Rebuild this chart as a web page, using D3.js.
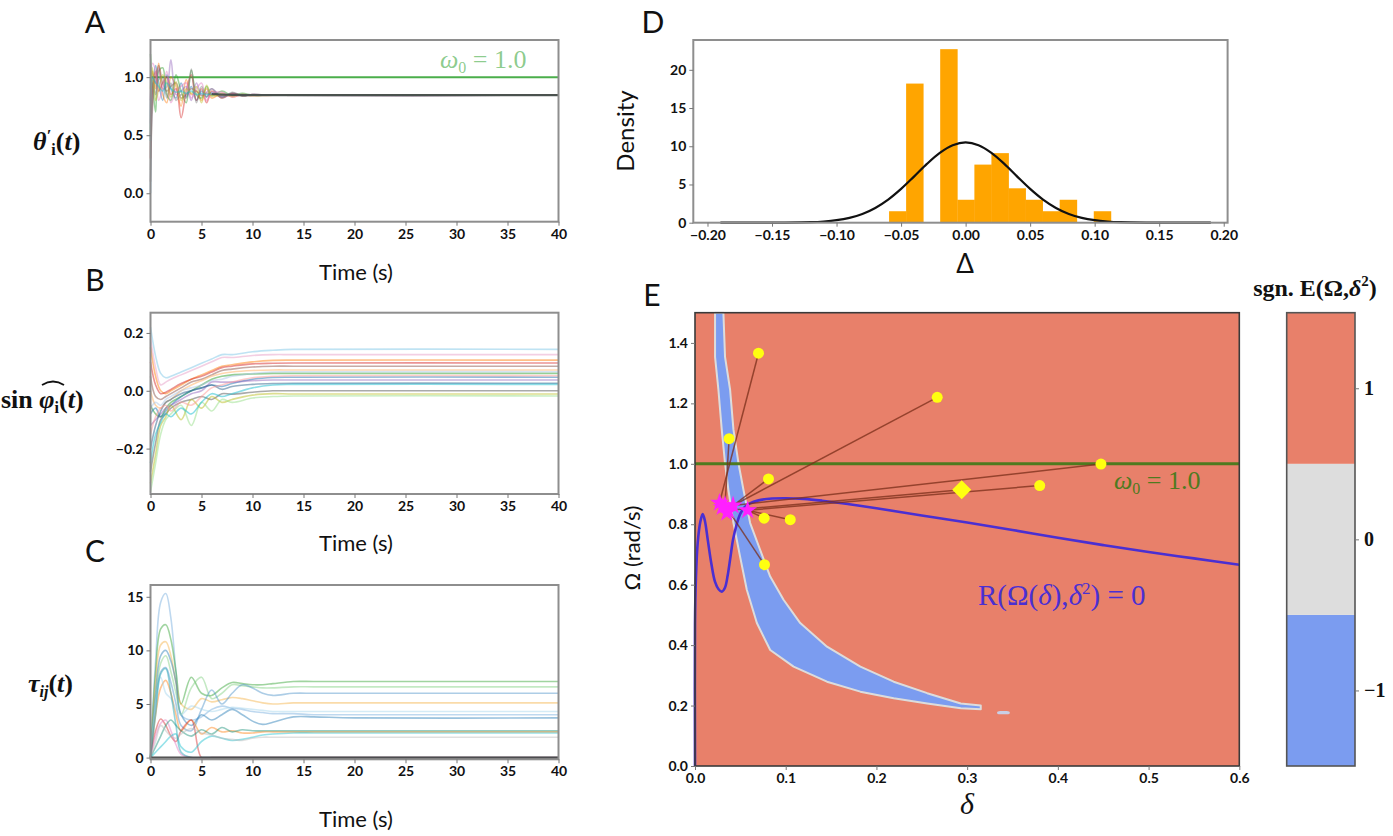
<!DOCTYPE html>
<html><head><meta charset="utf-8">
<script src="https://cdn.jsdelivr.net/npm/d3@7"></script>
<style>
body{margin:0;background:#fff}
svg{display:block}
text{font-family:Lato,'Open Sans',sans-serif}
.tick text{font-family:Lato,'Open Sans',sans-serif;font-weight:700;font-size:14px;fill:#111}
.tick line{stroke:#777}
</style>
</head><body>
<svg id="chart" width="1393" height="836"></svg>
<script>
// ---------------- DATA ----------------
const tab10 = ["#1f77b4","#ff7f0e","#2ca02c","#d62728","#9467bd","#8c564b","#e377c2","#7f7f7f","#bcbd22","#17becf"];

// Panel A: theta'_i(t)
const timeA = [0,0.2,0.5,0.8,1.2,1.6,2.0,2.5,3.0,3.5,4.0,4.5,5.0,5.5,6.0,7.0,8.0,9.0,10.0,12.0,40];
const thetaA = [
  [0.0,0.85,1.10,0.95,0.80,1.02,0.90,0.82,0.95,0.83,0.92,0.80,0.88,0.83,0.87,0.83,0.86,0.84,0.85,0.845,0.845],
  [0.5,1.05,0.90,1.12,0.85,0.78,1.00,0.92,0.75,0.98,0.85,0.88,0.80,0.90,0.82,0.86,0.83,0.85,0.84,0.845,0.845],
  [1.2,0.95,0.70,1.05,1.08,0.85,0.80,1.02,0.88,0.78,1.06,0.85,0.82,0.92,0.84,0.88,0.84,0.86,0.845,0.845,0.845],
  [0.3,0.90,1.05,0.88,0.95,1.00,0.85,0.90,0.65,0.88,1.02,0.80,0.90,0.78,0.88,0.82,0.86,0.84,0.85,0.845,0.845],
  [0.8,1.00,0.95,1.08,0.90,0.92,1.15,0.85,0.88,0.92,0.80,0.95,0.85,0.87,0.90,0.83,0.85,0.845,0.85,0.845,0.845],
  [0.1,0.75,1.00,1.10,0.95,0.88,0.92,0.95,0.82,0.85,0.90,0.88,0.84,0.86,0.85,0.84,0.85,0.84,0.845,0.845,0.845],
  [0.6,1.12,1.05,0.80,0.90,1.05,0.78,0.88,0.92,0.95,0.82,0.90,0.95,0.80,0.86,0.87,0.83,0.85,0.845,0.845,0.845],
  [0.2,0.95,0.85,0.98,1.00,0.82,0.95,0.80,0.85,0.82,1.07,0.78,0.92,0.83,0.90,0.82,0.87,0.84,0.85,0.845,0.845],
  [0.9,1.08,0.80,0.90,1.02,0.95,0.83,0.96,0.80,0.90,0.86,0.92,0.78,0.93,0.84,0.85,0.84,0.85,0.845,0.845,0.845],
  [0.45,1.00,0.95,0.92,0.88,0.95,0.90,0.87,0.88,0.86,0.88,0.85,0.86,0.85,0.855,0.85,0.848,0.846,0.845,0.845,0.845]
];
const omega0 = 1.0;

// Panel B: sin phi_i(t)
const timeB = [0,0.5,1,1.5,2,3,4,5,6,7,8,10,12,14,40];
const sinPhiB = [
  [0.22,0.12,0.06,0.045,0.05,0.065,0.08,0.095,0.11,0.125,0.125,0.135,0.14,0.143,0.143],
  [0.18,0.08,0.02,0.03,0.04,0.055,0.07,0.085,0.10,0.115,0.115,0.122,0.125,0.125,0.125],
  [0.15,0.05,0.0,-0.01,0.0,0.02,0.04,0.055,0.07,0.085,0.09,0.10,0.105,0.106,0.106],
  [0.10,0.02,-0.01,-0.005,0.005,0.025,0.04,0.05,0.065,0.08,0.085,0.093,0.095,0.096,0.096],
  [0.05,-0.02,-0.03,-0.02,-0.01,0.01,0.03,0.04,0.055,0.07,0.075,0.082,0.085,0.085,0.085],
  [0.0,-0.05,-0.06,-0.04,-0.03,0.0,0.02,0.035,0.05,0.06,0.065,0.07,0.072,0.072,0.072],
  [-0.05,-0.08,-0.09,-0.06,-0.04,-0.02,0.0,0.02,0.04,0.05,0.055,0.058,0.06,0.06,0.06],
  [-0.08,-0.06,-0.09,-0.07,-0.05,-0.02,0.0,0.01,0.02,0.015,0.025,0.04,0.046,0.047,0.047],
  [-0.12,-0.10,-0.08,-0.06,-0.05,-0.03,-0.01,0.0,0.03,0.03,0.03,0.035,0.037,0.037,0.037],
  [-0.20,-0.12,-0.07,-0.04,-0.03,-0.01,0.0,0.01,0.02,0.005,0.015,0.022,0.025,0.026,0.026],
  [-0.28,-0.18,-0.10,-0.08,-0.06,-0.04,-0.03,-0.02,-0.03,-0.01,-0.012,-0.005,0.0,0.0,0.0],
  [-0.32,-0.22,-0.12,-0.09,-0.05,-0.10,-0.03,-0.06,-0.02,-0.04,-0.03,-0.015,-0.01,-0.011,-0.011],
  [-0.35,-0.25,-0.15,-0.10,-0.08,-0.05,-0.12,-0.04,-0.07,-0.03,-0.04,-0.025,-0.02,-0.018,-0.018],
  [-0.25,-0.15,-0.11,-0.08,-0.09,-0.06,-0.08,-0.04,-0.01,-0.02,-0.01,0.01,0.02,0.022,0.022],
  [-0.15,-0.09,-0.06,-0.05,-0.07,-0.04,-0.05,-0.02,0.01,0.02,0.03,0.045,0.05,0.052,0.052],
  [-0.06,-0.04,-0.05,-0.03,-0.02,0.0,0.01,0.02,0.035,0.04,0.05,0.06,0.065,0.066,0.066]
];
const colorsB = ["#7fc8e8","#e8a0c8","#ff7f0e","#d62728","#8c564b","#ffb060","#2ca02c","#1f77b4","#9467bd","#2b5f8a","#555555","#bcbd22","#98df8a","#17becf","#ff9896","#aec7e8"];

// Panel C: tau_ij(t)
const timeC = [0,0.5,1,1.5,2,2.5,3,4,5,6,7,8,9,10,11,12,14,16,20,40];
const tauC = [
  [0,9,14.5,15.3,13,8,4,3.5,3.8,4.5,4.8,4.6,4.5,4.3,4.2,4.1,4.1,4.0,4.0,4.0],
  [0,8,12.0,12.4,11,8,5,7.5,6,5.8,6.5,7.0,6.9,6.8,6.8,6.9,7.1,7.1,7.1,7.1],
  [0,7,10.5,10.8,9.5,7,5,4.5,5.5,5.2,5.4,5.6,5.5,5.3,5.1,5.0,5.1,5.1,5.1,5.1],
  [0,6,9.5,10,9,7,4,3,4,3.5,4,4.5,4,3.4,3.1,3.3,3.8,3.8,3.7,3.7],
  [0,5.5,8.8,9.5,8,6,4,6.5,7.5,5.5,6,6.8,6.7,6.6,6.5,6.5,6.6,6.6,6.6,6.6],
  [0,5,8.0,8.4,7,5,3,2.5,4.5,6.3,5,6.0,6.8,6.5,6.0,5.8,6.0,6.0,6.0,6.0],
  [0,4,6.5,7.2,6,4,2.5,3.5,2.2,2.8,2.4,2.5,2.3,2.3,2.4,2.4,2.4,2.4,2.4,2.4],
  [0,5,7.5,6,5.5,4.5,4,4.8,4.5,4.3,4.5,4.7,4.6,4.5,4.4,4.3,4.3,4.3,4.3,4.3],
  [0,2.5,3.6,3.0,2.0,1.5,2.5,3.5,0,0,0,0,0,0,0,0,0,0,0,0],
  [0,2,3.2,3.5,2.5,1.2,0.3,0,0,0,0,0,0,0,0,0,0,0,0,0],
  [0,1,2,3,3.5,3,2.5,2.0,2.6,2.2,2.8,2.4,2.6,2.5,2.5,2.5,2.5,2.5,2.5,2.5],
  [0,0.5,1,1.5,2,2.2,1.0,0.5,1.5,2.0,1.8,1.6,1.7,1.9,2.1,2.2,2.3,2.3,2.3,2.3],
  [0,1.5,3,2.5,2,1.8,2.2,2.7,2.3,2.1,1.8,1.7,1.6,1.8,1.9,1.9,1.9,1.9,1.9,1.9],
  [0,4,7.8,8.3,6,3,0.5,0,0,0,0,0,0,0,0,0,0,0,0,0],
  [0,0,0,0,0,0,0,0,0,0,0,0,0,0,0,0,0,0,0,0]
];
const colorsC = ["#6fa8dc","#2ca02c","#f5b041","#1f77b4","#7ccf7c","#4a90c8","#ff7f0e","#9fd3ea","#d62728","#e377c2","#138d75","#17becf","#bbbbbb","#17a0b0","#555555"];

// Panel D: histogram of Delta
const binStart = [-0.0593,-0.0461,-0.0329,-0.0197,-0.0064,0.0068,0.0200,0.0332,0.0464,0.0597,0.0729,0.0861,0.0993];
const binWidth = 0.01322;
const densityD = [1.5,18.2,0,22.7,3.0,7.6,9.1,4.5,3.0,1.5,3.0,0,1.5];
const normX = [-0.19,-0.16,-0.14,-0.12,-0.11,-0.10,-0.09,-0.08,-0.07,-0.06,-0.05,-0.04,-0.03,-0.02,-0.01,0,0.01,0.02,0.03,0.04,0.05,0.06,0.07,0.08,0.09,0.10,0.11,0.12,0.14,0.16,0.19];
const normY = [0,0.002,0.012,0.07,0.16,0.33,0.64,1.14,1.93,3.02,4.42,6.03,7.69,9.14,10.14,10.5,10.14,9.14,7.69,6.03,4.42,3.02,1.93,1.14,0.64,0.33,0.16,0.07,0.012,0.002,0];
const ticksDx = [-0.20,-0.15,-0.10,-0.05,0.00,0.05,0.10,0.15,0.20];
const ticksDy = [0,5,10,15,20];

// Panel E
const rCurveD = [0,0,0.001,0.003,0.006,0.0085,0.011,0.014,0.018,0.022,0.026,0.0295,0.033,0.036,0.039,0.042,0.046,0.05,0.055,0.06,0.07,0.085,0.1,0.12,0.14,0.17,0.2,0.25,0.3,0.35,0.4,0.45,0.5,0.55,0.6];
const rCurveW = [0,0.47,0.62,0.74,0.81,0.834,0.81,0.75,0.67,0.61,0.585,0.577,0.59,0.63,0.69,0.75,0.80,0.835,0.857,0.868,0.879,0.885,0.886,0.884,0.878,0.866,0.853,0.829,0.806,0.781,0.755,0.731,0.708,0.687,0.666];
const bandLowD = [0.0221,0.0221,0.0258,0.0295,0.0331,0.0368,0.0424,0.0497,0.0571,0.0682,0.0829,0.1087,0.1455,0.1823,0.219,0.256,0.293,0.315];
const bandLowW = [1.5,1.354,1.245,1.113,1.002,0.914,0.804,0.693,0.583,0.473,0.384,0.329,0.279,0.246,0.224,0.207,0.191,0.188];
const bandHighD = [0.0313,0.0331,0.0387,0.0424,0.0479,0.0534,0.0608,0.0718,0.0829,0.0976,0.116,0.1455,0.1823,0.219,0.256,0.293,0.315];
const bandHighW = [1.5,1.354,1.245,1.113,1.002,0.914,0.804,0.715,0.627,0.550,0.473,0.395,0.329,0.279,0.241,0.207,0.2];
const blobD = [0.333,0.347];
const blobW = [0.171,0.182];
const yellowD = [0.070,0.267,0.0376,0.4475,0.081,0.380,0.0762,0.105,0.0766];
const yellowW = [1.366,1.220,1.083,0.999,0.950,0.928,0.820,0.815,0.666];
const starD = [0.027,0.0331,0.0368,0.035,0.042,0.030,0.058];
const starW = [0.871,0.863,0.846,0.838,0.862,0.857,0.846];
const linkYellow = [0,1,2,3,4,5,6,7,8];
const linkStar = [0,4,1,4,4,6,6,6,2];
const diamondD = [0.294];
const diamondW = [0.914];
const diamondStar = [2];
const ticksEx = [0,0.1,0.2,0.3,0.4,0.5,0.6];
const ticksEy = [0,0.2,0.4,0.6,0.8,1.0,1.2,1.4];

// Colorbar
const cbEdges = [-1.5,-0.5,0.5,1.5];
const cbColors = ["#7b9cf0","#dddddd","#e8806a"];
const cbTicks = [-1,0,1];

// ---------------- DRAW ----------------
const svg = d3.select("#chart");
const fmt1 = d3.format(".1f");

function frame(x, y, stroke, sw) {
  const [x0,x1] = x.range(), [y0,y1] = y.range();
  svg.append("rect").attr("x",x0).attr("y",y1).attr("width",x1-x0).attr("height",y0-y1)
    .attr("fill","none").attr("stroke",stroke).attr("stroke-width",sw);
}
function axes(x, y, xt, yt, xf, yf) {
  const gx = svg.append("g").attr("transform",`translate(0,${y.range()[0]})`)
    .call(d3.axisBottom(x).tickValues(xt).tickFormat(xf).tickSize(4).tickPadding(3));
  gx.select(".domain").remove();
  const gy = svg.append("g").attr("transform",`translate(${x.range()[0]},0)`)
    .call(d3.axisLeft(y).tickValues(yt).tickFormat(yf).tickSize(4).tickPadding(3));
  gy.select(".domain").remove();
  return [gx, gy];
}
function lines(x, y, T, S, colors, op, w) {
  const gen = d3.line().x((d,i)=>x(T[i])).y(d=>y(d)).curve(d3.curveCatmullRom.alpha(0.5));
  const g = svg.append("g");
  S.forEach((s,i)=>{
    g.append("path").attr("d",gen(s)).attr("fill","none")
      .attr("stroke",colors[i%colors.length]).attr("stroke-width",w).attr("stroke-opacity",op);
  });
  return g;
}
function label(txt, x, y, size, opts={}) {
  const t = svg.append("text").attr("x",x).attr("y",y).attr("font-size",size)
    .attr("text-anchor",opts.anchor||"middle").attr("fill",opts.fill||"#111").text(txt);
  if (opts.rotate) t.attr("transform",`rotate(-90,${x},${y})`);
  if (opts.family) t.style("font-family",opts.family);
  if (opts.weight) t.attr("font-weight",opts.weight);
  return t;
}
function omegaLabel(x, y, fill, op) {
  const t = svg.append("text").attr("x",x).attr("y",y).attr("font-size",26)
    .style("font-family","'Liberation Serif',serif").attr("fill",fill).attr("fill-opacity",op);
  t.append("tspan").attr("font-style","italic").text("ω");
  t.append("tspan").attr("font-size",16).attr("dy",5).text("0");
  t.append("tspan").attr("dy",-5).text(" = 1.0");
}
const timeTicks = [0,5,10,15,20,25,30,35,40];

// ---- Panel A ----
const xA = d3.scaleLinear().domain([0,40]).range([150.5,558.5]);
const yA = d3.scaleLinear().domain([-0.245,1.32]).range([221.7,40]);
svg.append("line").attr("x1",xA(0)).attr("x2",xA(40)).attr("y1",yA(omega0)).attr("y2",yA(omega0))
  .attr("stroke","#2ca02c").attr("stroke-width",2).attr("stroke-opacity",0.85);
lines(xA,yA,timeA,thetaA,tab10,0.45,1.6);
lines(xA,yA,timeA.slice(14),[thetaA[9].slice(14)],["#444"],0.85,2.2);
frame(xA,yA,"#8e8e8e",2);
axes(xA,yA,timeTicks,[0,0.5,1.0],d3.format("d"),fmt1);
omegaLabel(440,68,"#2ca02c",0.55);
label("A",95,33,30);
label("Time (s)",356,280,22);
{
  const t = svg.append("text").attr("x",33).attr("y",150).attr("font-size",26)
    .style("font-family","'Liberation Serif',serif").attr("font-weight",700).attr("fill","#111");
  t.append("tspan").attr("font-style","italic").text("θ");
  t.append("tspan").attr("font-size",17).attr("dy",-9).attr("font-style","italic").text("′");
  t.append("tspan").attr("font-size",16).attr("dy",14).text("i");
  t.append("tspan").attr("dy",-5).text("(");
  t.append("tspan").attr("font-style","italic").text("t");
  t.append("tspan").text(")");
}

// ---- Panel B ----
const xB = d3.scaleLinear().domain([0,40]).range([150.5,558.5]);
const yB = d3.scaleLinear().domain([-0.357,0.27]).range([494,312.7]);
lines(xB,yB,timeB,sinPhiB,colorsB,0.5,1.6);
frame(xB,yB,"#8e8e8e",2);
axes(xB,yB,timeTicks,[-0.2,0.0,0.2],d3.format("d"),fmt1);
label("B",95,291,30);
label("Time (s)",356,551,22);
{
  const t = svg.append("text").attr("x",1).attr("y",408).attr("font-size",26)
    .style("font-family","'Liberation Serif',serif").attr("font-weight",700).attr("fill","#111");
  t.append("tspan").text("sin ");
  t.append("tspan").attr("font-style","italic").text("φ");
  t.append("tspan").attr("font-size",16).attr("dy",5).text("i");
  t.append("tspan").attr("dy",-5).text("(");
  t.append("tspan").attr("font-style","italic").text("t");
  t.append("tspan").text(")");
  svg.append("path").attr("d","M42,385 Q53,378 64,385").attr("fill","none").attr("stroke","#111").attr("stroke-width",1.8);
}

// ---- Panel C ----
const xC = d3.scaleLinear().domain([0,40]).range([150.5,558.5]);
const yC = d3.scaleLinear().domain([-0.16,16.1]).range([759.3,585]);
lines(xC,yC,timeC,tauC,colorsC,0.45,1.6);
lines(xC,yC,timeC,[tauC[14]],["#444"],0.85,2.2);
frame(xC,yC,"#8e8e8e",2);
axes(xC,yC,timeTicks,[0,5,10,15],d3.format("d"),d3.format("d"));
label("C",95,562,30);
label("Time (s)",356,827,22);
{
  const t = svg.append("text").attr("x",28).attr("y",692).attr("font-size",26)
    .style("font-family","'Liberation Serif',serif").attr("font-weight",700).attr("fill","#111");
  t.append("tspan").attr("font-style","italic").text("τ");
  t.append("tspan").attr("font-size",16).attr("dy",5).attr("font-style","italic").text("ij");
  t.append("tspan").attr("dy",-5).text("(");
  t.append("tspan").attr("font-style","italic").text("t");
  t.append("tspan").text(")");
}

// ---- Panel D ----
const xD = d3.scaleLinear().domain([-0.211,0.203]).range([693.3,1227.6]);
const yD = d3.scaleLinear().domain([0,23.9]).range([222.7,40]);
svg.append("g").selectAll("rect").data(densityD).join("rect")
  .attr("x",(d,i)=>xD(binStart[i])).attr("width",(d,i)=>xD(binStart[i]+binWidth)-xD(binStart[i])+0.4)
  .attr("y",d=>yD(d)).attr("height",d=>yD(0)-yD(d)).attr("fill","#ffa500");
svg.append("path").datum(normY)
  .attr("d",d3.line().x((d,i)=>xD(normX[i])).y(d=>yD(d)).curve(d3.curveCatmullRom.alpha(0.5)))
  .attr("fill","none").attr("stroke","#111").attr("stroke-width",2.2);
frame(xD,yD,"#8e8e8e",2);
axes(xD,yD,ticksDx,ticksDy,d3.format(".2f"),d3.format("d"));
label("D",653,33,30);
label("Density",634,131,24,{rotate:true});
label("Δ",965,273,26);

// ---- Panel E ----
const xE = d3.scaleLinear().domain([0,0.6]).range([695,1239.3]);
const yE = d3.scaleLinear().domain([0,1.5]).range([766,312.7]);
svg.append("rect").attr("x",xE(0)).attr("y",yE(1.5)).attr("width",xE(0.6)-xE(0)).attr("height",yE(0)-yE(1.5))
  .attr("fill",cbColors[2]);
const bandPts = bandLowD.map((d,i)=>[xE(d),yE(bandLowW[i])])
  .concat(bandHighD.map((d,i)=>[xE(d),yE(bandHighW[i])]).reverse());
svg.append("path").attr("d",d3.line()(bandPts)+"Z").attr("fill",cbColors[0])
  .attr("stroke","#dcdcdc").attr("stroke-width",2).attr("stroke-linejoin","round");
svg.append("rect").attr("x",xE(blobD[0])).attr("y",yE(blobW[1])).attr("width",xE(blobD[1])-xE(blobD[0]))
  .attr("height",yE(blobW[0])-yE(blobW[1])).attr("rx",3).attr("fill","#c9cfe6");
svg.append("line").attr("x1",xE(0)).attr("x2",xE(0.6)).attr("y1",yE(omega0)).attr("y2",yE(omega0))
  .attr("stroke","#4e7a1f").attr("stroke-width",3);
svg.append("path").datum(rCurveW)
  .attr("d",d3.line().x((d,i)=>xE(rCurveD[i])).y(d=>yE(d)).curve(d3.curveCatmullRom.alpha(0.5)))
  .attr("fill","none").attr("stroke","#4a2fd2").attr("stroke-width",2.6);
const gl = svg.append("g");
linkYellow.forEach((yi,k)=>{
  const s = linkStar[k];
  gl.append("line").attr("x1",xE(yellowD[yi])).attr("y1",yE(yellowW[yi]))
    .attr("x2",xE(starD[s])).attr("y2",yE(starW[s]))
    .attr("stroke","#7a2e1a").attr("stroke-opacity",0.75).attr("stroke-width",1.5);
});
diamondD.forEach((d,k)=>{
  const s = diamondStar[k];
  gl.append("line").attr("x1",xE(d)).attr("y1",yE(diamondW[k])).attr("x2",xE(starD[s])).attr("y2",yE(starW[s]))
    .attr("stroke","#7a2e1a").attr("stroke-opacity",0.75).attr("stroke-width",1.5);
});
svg.append("g").selectAll("circle").data(yellowD).join("circle")
  .attr("cx",d=>xE(d)).attr("cy",(d,i)=>yE(yellowW[i])).attr("r",5.5).attr("fill","#ffff10");
svg.append("g").selectAll("path").data(diamondD).join("path")
  .attr("transform",(d,i)=>`translate(${xE(d)},${yE(diamondW[i])})`)
  .attr("d",d3.symbol(d3.symbolDiamond2,230)).attr("fill","#ffff10");
svg.append("g").selectAll("path").data(starD).join("path")
  .attr("transform",(d,i)=>`translate(${xE(d)},${yE(starW[i])})`)
  .attr("d",d3.symbol(d3.symbolStar,110)).attr("fill","#ff20ff");
frame(xE,yE,"#3a3a3a",1.6);
axes(xE,yE,ticksEx,ticksEy,fmt1,fmt1);
label("E",652,306,30);
label("Ω (rad/s)",640,548,22,{rotate:true});
label("δ",967,814,30,{family:"'Liberation Serif',serif"}).attr("font-style","italic");
omegaLabel(1114,489,"#4e7a1f",1);
{
  const t = svg.append("text").attr("x",978).attr("y",605).attr("font-size",29)
    .style("font-family","'Liberation Serif',serif").attr("fill","#4a2fd2");
  t.append("tspan").text("R(Ω(");
  t.append("tspan").attr("font-style","italic").text("δ");
  t.append("tspan").text("),");
  t.append("tspan").attr("font-style","italic").text("δ");
  t.append("tspan").attr("font-size",17).attr("dy",-11).text("2");
  t.append("tspan").attr("dy",11).text(") = 0");
}

// ---- Colorbar ----
const xCB = d3.scaleLinear().domain([0,1]).range([1286.7,1355]);
const yCB = d3.scaleLinear().domain([-1.5,1.5]).range([766,312.7]);
svg.append("g").selectAll("rect").data(cbColors).join("rect")
  .attr("x",xCB(0)).attr("width",xCB(1)-xCB(0))
  .attr("y",(d,i)=>yCB(cbEdges[i+1])).attr("height",(d,i)=>yCB(cbEdges[i])-yCB(cbEdges[i+1]))
  .attr("fill",d=>d);
frame(xCB,yCB,"#555",1.6);
{
  const g = svg.append("g").attr("transform",`translate(${xCB(1)},0)`)
    .call(d3.axisRight(yCB).tickValues(cbTicks).tickFormat(d=>d<0?"−"+Math.abs(d):d).tickSize(4).tickPadding(5));
  g.select(".domain").remove();
  g.selectAll(".tick text").style("font-family","'Liberation Serif',serif").style("font-size","20px").style("font-weight","700");
}
{
  const t = svg.append("text").attr("x",1315).attr("y",296).attr("font-size",24).attr("text-anchor","middle")
    .style("font-family","'Liberation Serif',serif").attr("font-weight",700).attr("fill","#111");
  t.append("tspan").text("sgn. E(Ω,");
  t.append("tspan").attr("font-style","italic").text("δ");
  t.append("tspan").attr("font-size",15).attr("dy",-10).text("2");
  t.append("tspan").attr("dy",10).text(")");
}
</script>
</body></html>
